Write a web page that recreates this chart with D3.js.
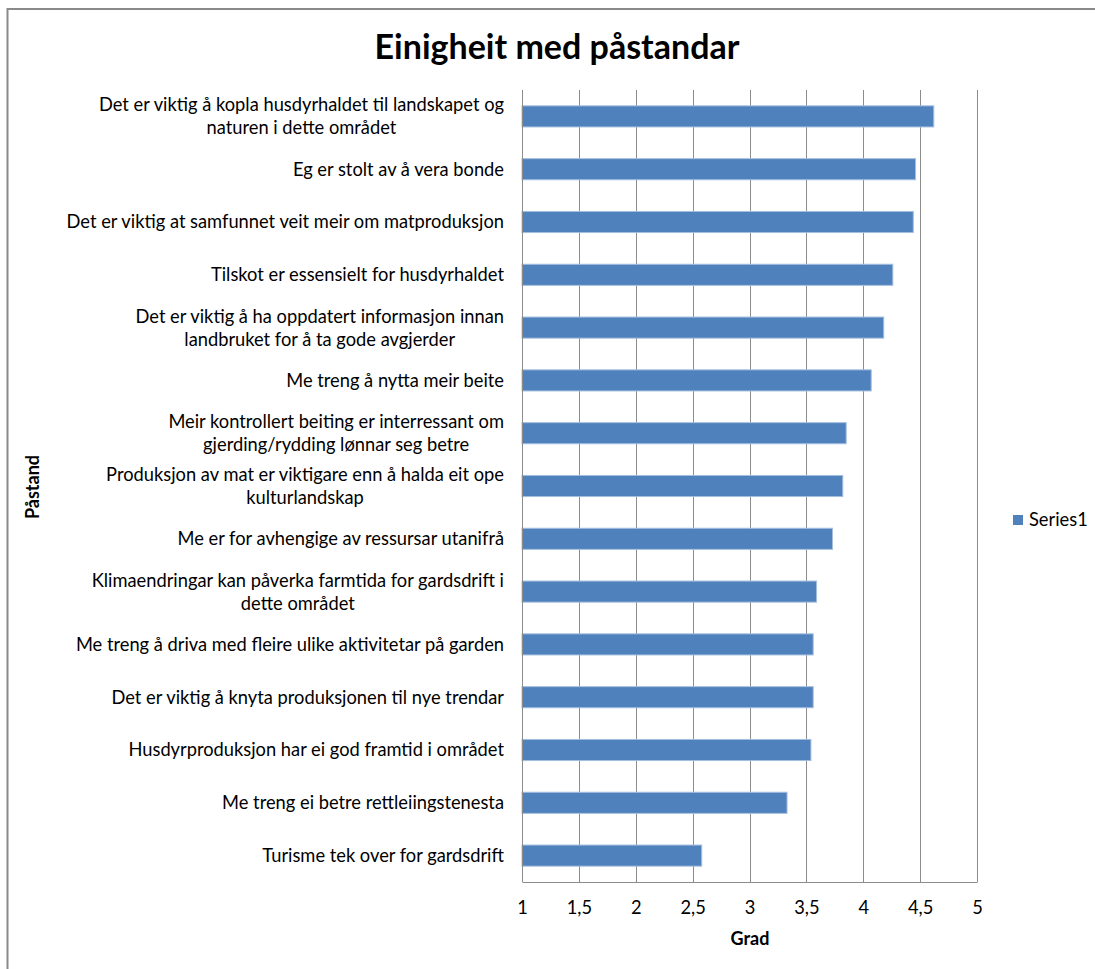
<!DOCTYPE html>
<html><head><meta charset="utf-8">
<script src="https://cdn.jsdelivr.net/npm/d3@7"></script>
<style>
html,body{margin:0;padding:0;background:#fff;}
svg{display:block;font-family:Lato,"Open Sans",sans-serif;}
</style></head>
<body>
<svg id="chart" width="1095" height="969"></svg>
<script>
const categories = [
  "Det er viktig å kopla husdyrhaldet til landskapet og|naturen i dette området",
  "Eg er stolt av å vera bonde",
  "Det er viktig at samfunnet veit meir om matproduksjon",
  "Tilskot er essensielt for husdyrhaldet",
  "Det er viktig å ha oppdatert informasjon innan|landbruket for å ta gode avgjerder",
  "Me treng å nytta meir beite",
  "Meir kontrollert beiting er interressant om|gjerding/rydding lønnar seg betre",
  "Produksjon av mat er viktigare enn å halda eit ope|kulturlandskap",
  "Me er for avhengige av ressursar utanifrå",
  "Klimaendringar kan påverka farmtida for gardsdrift i|dette området",
  "Me treng å driva med fleire ulike aktivitetar på garden",
  "Det er viktig å knyta produksjonen til nye trendar",
  "Husdyrproduksjon har ei god framtid i området",
  "Me treng ei betre rettleiingstenesta",
  "Turisme tek over for gardsdrift"
];
const values = [4.62, 4.46, 4.44, 4.26, 4.18, 4.07, 3.85, 3.82, 3.73, 3.59, 3.56, 3.56, 3.54, 3.33, 2.58];
const xTicks = [1, 1.5, 2, 2.5, 3, 3.5, 4, 4.5, 5];
const seriesName = "Series1";
const title = "Einigheit med påstandar";
const xTitle = "Grad";
const yTitle = "Påstand";

const svg = d3.select("#chart");
const W = 1095, H = 969;
const plot = {left: 522, right: 977, top: 90, bottom: 882};
const gridColor = "#8c8c8c";
const barColor = "#4f81bd";
const fs = 18.3;

// outer border
svg.append("rect").attr("x", 7.5).attr("y", 9).attr("width", W + 10).attr("height", H + 10)
  .attr("fill", "#fff").attr("stroke", "#8a8a8a").attr("stroke-width", 2);

const x = d3.scaleLinear().domain([1, 5]).range([plot.left, plot.right]);
const y = d3.scaleBand().domain(categories).range([plot.top, plot.bottom]).paddingInner(0.6).paddingOuter(0.3);

// gridlines
svg.append("g").selectAll("line").data(xTicks).join("line")
  .attr("x1", d => Math.round(x(d)) + 0.5).attr("x2", d => Math.round(x(d)) + 0.5)
  .attr("y1", plot.top).attr("y2", plot.bottom)
  .attr("stroke", gridColor).attr("stroke-width", 1);

// bottom axis
const xAxis = d3.axisBottom(x).tickValues(xTicks).tickSize(0).tickPadding(19)
  .tickFormat(d => String(d).replace(".", ","));
const gx = svg.append("g").attr("transform", `translate(0,${plot.bottom})`).call(xAxis);
gx.select(".domain").attr("stroke", gridColor);
gx.selectAll("text").attr("font-size", fs).attr("fill", "#000").attr("font-family", "Lato,'Open Sans',sans-serif");

// bars
svg.append("g").selectAll("rect").data(values).join("rect")
  .attr("x", x(1)).attr("y", (d, i) => y(categories[i]))
  .attr("width", d => x(d) - x(1)).attr("height", y.bandwidth())
  .attr("fill", barColor).attr("stroke", "#a7bfdf").attr("stroke-width", 1);

// left axis line
svg.append("line").attr("x1", plot.left + 0.5).attr("x2", plot.left + 0.5)
  .attr("y1", plot.top).attr("y2", plot.bottom).attr("stroke", gridColor);

// category labels
const lab = svg.append("g").attr("font-size", fs).attr("fill", "#000");
categories.forEach(c => {
  const lines = c.split("|");
  const cy = y(c) + y.bandwidth() / 2;
  const lh = 23;
  const t = lab.append("text").attr("text-anchor", "middle").attr("fill", "#000");
  const spans = lines.map((l, i) => t.append("tspan").text(l));
  const widths = spans.map(s => s.node().getComputedTextLength());
  const wmax = d3.max(widths);
  const cx = 504 - wmax / 2;
  spans.forEach((s, i) => {
    s.attr("x", cx).attr("y", cy + (i - (lines.length - 1) / 2) * lh).attr("dy", "0.35em");
  });
});

// title
svg.append("text").attr("x", 557).attr("y", 47).attr("dy", "0.35em")
  .attr("text-anchor", "middle").attr("font-size", 34).attr("font-weight", "bold")
  .attr("fill", "#000").text(title);

// axis titles
svg.append("text").attr("x", 750).attr("y", 939).attr("dy", "0.35em")
  .attr("text-anchor", "middle").attr("font-size", 18).attr("font-weight", "bold").text(xTitle);
svg.append("text").attr("transform", "translate(33,487) rotate(-90)").attr("dy", "0.35em")
  .attr("text-anchor", "middle").attr("font-size", 18).attr("font-weight", "bold").text(yTitle);

// legend
const lg = svg.append("g").attr("transform", "translate(1013,520)");
lg.append("rect").attr("x", 0).attr("y", -5).attr("width", 10).attr("height", 10).attr("fill", barColor);
lg.append("text").attr("x", 16).attr("y", 0).attr("dy", "0.35em").attr("font-size", fs).text(seriesName);
</script>
</body></html>
